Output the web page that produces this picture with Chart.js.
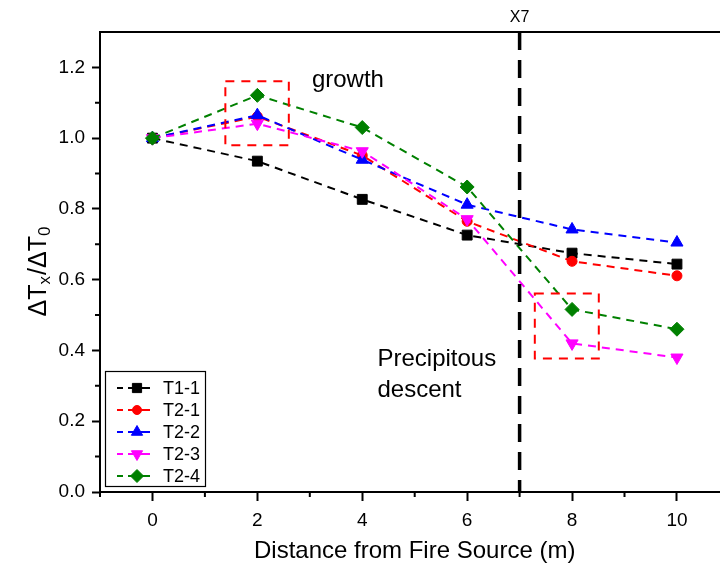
<!DOCTYPE html>
<html><head><meta charset="utf-8">
<script src="https://cdn.jsdelivr.net/npm/chart.js@4.4.1/dist/chart.umd.min.js"></script>
<style>
html,body{margin:0;padding:0;background:#fff;overflow:hidden}
#wrap{width:720px;height:570px;overflow:hidden;position:relative;background:#fff}
canvas{display:block}
</style>
</head><body><div id="wrap"><canvas id="c" width="750" height="570"></canvas></div>
<script>
// ---- data ----
const distances = [0, 2, 4, 6, 8, 10];
const seriesNames = ['T1-1', 'T2-1', 'T2-2', 'T2-3', 'T2-4'];
const t1_1 = [1.000, 0.935, 0.827, 0.726, 0.675, 0.644];
const t2_1 = [1.000, 1.061, 0.951, 0.765, 0.652, 0.611];
const t2_2 = [1.000, 1.065, 0.939, 0.812, 0.742, 0.705];
const t2_3 = [1.000, 1.041, 0.963, 0.771, 0.420, 0.380];
const t2_4 = [1.000, 1.121, 1.030, 0.862, 0.516, 0.460];
const xTickValues = [0, 2, 4, 6, 8, 10];
const yTickValues = [0, 0.2, 0.4, 0.6, 0.8, 1.0, 1.2];
const xMinorValues = [-1, 1, 3, 5, 7, 9, 11];
const yMinorValues = [0.1, 0.3, 0.5, 0.7, 0.9, 1.1];
const markerX = 7;
const markerLabel = 'X7';
const xTitle = 'Distance from Fire Source (m)';
const growthText = 'growth';
const descentText = ['Precipitous', 'descent'];

// ---- styles ----
const FONT = '"Liberation Sans", Arial, Helvetica, sans-serif';
const colors = ['#000000', '#ff0000', '#0000ff', '#ff00ff', '#008000'];
const pStyles = ['rect', 'circle', 'triangle', 'triangle', 'rectRot'];
const pRot = [0, 0, 0, 180, 0];
const pRad = [7, 5, 7, 7, 7];
const allSeries = [t1_1, t2_1, t2_2, t2_3, t2_4];

const datasets = allSeries.map((vals, i) => ({
  label: seriesNames[i],
  data: distances.map((x, k) => ({ x: x, y: vals[k] })),
  borderColor: colors[i],
  backgroundColor: colors[i],
  borderWidth: 2,
  borderDash: [8, 6],
  pointStyle: pStyles[i],
  pointRotation: pRot[i],
  pointRadius: pRad[i],
  pointHoverRadius: pRad[i],
  pointBackgroundColor: colors[i],
  pointBorderColor: colors[i],
  pointBorderWidth: 1,
  tension: 0,
  order: 5 - i
}));

const decor = {
  id: 'decor',
  afterDatasetsDraw(chart) {
    const ctx = chart.ctx, xs = chart.scales.x, ys = chart.scales.y, ca = chart.chartArea;
    ctx.save();
    // X7 vertical dashed line
    const px = xs.getPixelForValue(markerX);
    ctx.strokeStyle = '#000'; ctx.lineWidth = 3.5; ctx.setLineDash([18, 10]);
    ctx.beginPath(); ctx.moveTo(px, ca.top); ctx.lineTo(px, ca.bottom); ctx.stroke();
    // red dashed boxes
    const boxes = [[1.39, 2.60, 0.980, 1.161], [7.29, 8.51, 0.377, 0.561]];
    ctx.strokeStyle = '#ff0000'; ctx.lineWidth = 2; ctx.setLineDash([9, 7]);
    boxes.forEach(b => {
      const x1 = xs.getPixelForValue(b[0]), x2 = xs.getPixelForValue(b[1]);
      const y1 = ys.getPixelForValue(b[3]), y2 = ys.getPixelForValue(b[2]);
      ctx.strokeRect(x1, y1, x2 - x1, y2 - y1);
    });
    ctx.setLineDash([]);
    // annotation texts
    ctx.fillStyle = '#000'; ctx.font = '24px ' + FONT; ctx.textBaseline = 'middle'; ctx.textAlign = 'left';
    ctx.fillText(growthText, xs.getPixelForValue(3.04), ys.getPixelForValue(1.163));
    ctx.fillText(descentText[0], xs.getPixelForValue(4.29), ys.getPixelForValue(0.375));
    ctx.fillText(descentText[1], xs.getPixelForValue(4.29), ys.getPixelForValue(0.287));
    ctx.restore();
  },
  afterDraw(chart) {
    const ctx = chart.ctx, xs = chart.scales.x, ys = chart.scales.y, ca = chart.chartArea;
    ctx.save();
    ctx.strokeStyle = '#000'; ctx.lineWidth = 2;
    // top and right frame
    ctx.beginPath(); ctx.moveTo(ca.left - 1, ca.top); ctx.lineTo(ca.right, ca.top); ctx.lineTo(ca.right, ca.bottom); ctx.stroke();
    // minor ticks
    ctx.beginPath();
    xMinorValues.forEach(v => { const p = xs.getPixelForValue(v); ctx.moveTo(p, ca.bottom); ctx.lineTo(p, ca.bottom + 5); });
    yMinorValues.forEach(v => { const p = ys.getPixelForValue(v); ctx.moveTo(ca.left, p); ctx.lineTo(ca.left - 5, p); });
    ctx.stroke();
    // X7 label
    ctx.fillStyle = '#000'; ctx.textAlign = 'center'; ctx.textBaseline = 'middle';
    ctx.font = '16px ' + FONT;
    ctx.fillText(markerLabel, xs.getPixelForValue(markerX), ca.top - 14);
    // x title
    ctx.font = '24px ' + FONT;
    ctx.fillText(xTitle, (ca.left + ca.right) / 2, 551);
    // y title with subscripts
    const big = '25px ' + FONT, small = '17px ' + FONT;
    const parts = [['ΔT', big, 0], ['x', small, 4], ['/ΔT', big, 0], ['0', small, 4]];
    let W = 0;
    parts.forEach(p => { ctx.font = p[1]; p.push(ctx.measureText(p[0]).width); W += p[3] + (p[1] === small ? 1 : 0); });
    ctx.translate(46, (ca.top + ca.bottom) / 2 + 9);
    ctx.rotate(-Math.PI / 2);
    ctx.textAlign = 'left'; ctx.textBaseline = 'alphabetic';
    let tx = -W / 2;
    parts.forEach(p => { ctx.font = p[1]; ctx.fillText(p[0], tx, p[2]); tx += p[3] + (p[1] === small ? 1 : 0); });
    ctx.restore();
    // legend
    ctx.save();
    const lx = 105, ly = 371, lw = 100, lh = 115;
    ctx.fillStyle = '#fff'; ctx.fillRect(lx, ly, lw, lh);
    ctx.strokeStyle = '#000'; ctx.lineWidth = 1.2; ctx.strokeRect(lx + 0.5, ly + 0.5, lw, lh);
    ctx.font = '18px ' + FONT; ctx.textBaseline = 'middle'; ctx.textAlign = 'left';
    seriesNames.forEach((name, i) => {
      const y = ly + 17 + i * 22;
      ctx.strokeStyle = colors[i]; ctx.lineWidth = 2; ctx.setLineDash([6, 5, 100]);
      ctx.beginPath(); ctx.moveTo(117, y); ctx.lineTo(150, y); ctx.stroke();
      ctx.setLineDash([]);
      ctx.fillStyle = colors[i]; ctx.strokeStyle = colors[i]; ctx.lineWidth = 1;
      Chart.helpers.drawPoint(ctx, { pointStyle: pStyles[i], rotation: pRot[i], radius: pRad[i] - 0.5, borderWidth: 1 }, 137, y);
      ctx.fillStyle = '#000';
      ctx.fillText(name, 163, y + 1);
    });
    ctx.restore();
  }
};

new Chart(document.getElementById('c'), {
  type: 'line',
  data: { datasets: datasets },
  options: {
    responsive: false,
    animation: false,
    events: [],
    layout: { padding: { left: 0, right: 20.6, top: 32, bottom: 0 } },
    plugins: { legend: { display: false }, tooltip: { enabled: false } },
    scales: {
      x: {
        type: 'linear', min: -1, max: 11,
        afterBuildTicks: s => { s.ticks = xTickValues.map(v => ({ value: v })); },
        afterFit: s => { s.height = 78; },
        grid: { display: true, drawOnChartArea: false, drawTicks: true, tickLength: 9, tickWidth: 2, tickColor: '#000' },
        border: { display: true, color: '#000', width: 2 },
        ticks: { color: '#000', font: { family: FONT, size: 19 }, padding: 8, maxRotation: 0, autoSkip: false, callback: v => String(v) },
        title: { display: false }
      },
      y: {
        type: 'linear', min: 0, max: 1.3,
        afterBuildTicks: s => { s.ticks = yTickValues.map(v => ({ value: v })); },
        afterFit: s => { s.width = 100; },
        grid: { display: true, drawOnChartArea: false, drawTicks: true, tickLength: 8, tickWidth: 2, tickColor: '#000' },
        border: { display: true, color: '#000', width: 2 },
        ticks: { color: '#000', font: { family: FONT, size: 19 }, padding: 7, autoSkip: false, callback: v => Number(v).toFixed(1) },
        title: { display: false }
      }
    }
  },
  plugins: [decor]
});
</script>
</body></html>
